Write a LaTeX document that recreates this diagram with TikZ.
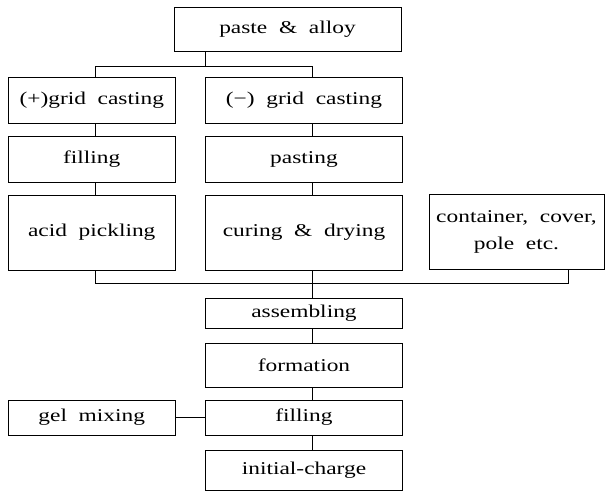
\documentclass[tikz,border=0pt]{standalone}
\usepackage{fontspec}
\setmainfont{Liberation Serif}[FakeStretch=1.3, WordSpace=2]
\begin{document}
\begin{tikzpicture}[x=1pt,y=-1pt,
  box/.style={draw, line width=0.8pt, inner sep=0pt, align=center,
    font=\fontsize{18}{27}\selectfont},
  lcol/.style={box, minimum width=167.5pt},
  ccol/.style={box, minimum width=197pt},
  link/.style={line width=0.8pt}]
\useasboundingbox (0,0) rectangle (605,491);
% boxes
\node[box, minimum width=227pt, minimum height=44pt] (paste) at (287.5,29) {paste \& alloy};
\node[lcol, minimum height=46pt] (gridp) at (91.75,100) {(+)grid casting};
\node[ccol, minimum height=46pt] (gridn) at (304,100) {(−) grid casting};
\node[lcol, minimum height=46pt] (fillp) at (91.75,159) {filling};
\node[ccol, minimum height=46pt] (pasting) at (304,159) {pasting};
\node[lcol, minimum height=75pt] (acid) at (91.75,232.5) {acid pickling};
\node[ccol, minimum height=75pt] (cure) at (304,232.5) {curing \& drying};
\node[box, minimum width=175pt, minimum height=75pt] (cont) at (516.5,231.5) {container, cover,\\pole etc.};
\node[ccol, minimum height=30pt] (asm) at (304,313) {assembling};
\node[ccol, minimum height=44pt] (form) at (304,365) {formation};
\node[ccol, minimum height=35pt] (fill) at (304,417.5) {filling};
\node[lcol, minimum height=35pt] (gel) at (91.75,417.5) {gel mixing};
\node[ccol, minimum height=40pt] (init) at (304,470) {initial-charge};
% junctions
\coordinate (j1) at (205,66);
\coordinate (L1) at (95,66);
\coordinate (R1) at (312,66);
\coordinate (B2L) at (95,283);
\coordinate (B2C) at (312,283);
\coordinate (B2R) at (568,283);
% connectors
\draw[link] (paste.south -| j1) -- (j1);
\draw[link] (gridp.north -| L1) -- (L1) -- (R1) -- (gridn.north -| R1);
\draw[link] (gridp.south -| L1) -- (fillp.north -| L1);
\draw[link] (fillp.south -| L1) -- (acid.north -| L1);
\draw[link] (gridn.south -| R1) -- (pasting.north -| R1);
\draw[link] (pasting.south -| R1) -- (cure.north -| R1);
\draw[link] (acid.south -| B2L) -- (B2L) -- (B2R) -- (cont.south -| B2R);
\draw[link] (cure.south -| B2C) -- (asm.north -| B2C);
\draw[link] (asm.south -| B2C) -- (form.north -| B2C);
\draw[link] (form.south -| B2C) -- (fill.north -| B2C);
\draw[link] (fill.south -| B2C) -- (init.north -| B2C);
\draw[link] (gel.east) -- (fill.west);
\end{tikzpicture}
\end{document}
